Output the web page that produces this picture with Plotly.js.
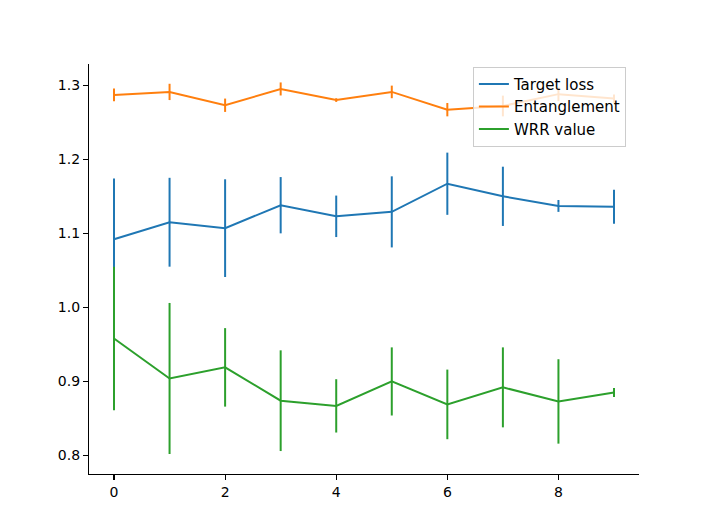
<!DOCTYPE html>
<html>
<head>
<meta charset="utf-8">
<script src="https://cdn.plot.ly/plotly-3.0.1.min.js"></script>
<style>html,body{margin:0;padding:0;background:#fff;}#chart{width:710px;height:532px;}</style>
</head>
<body>
<div id="chart"></div>
<script>
var steps = [0, 1, 2, 3, 4, 5, 6, 7, 8, 9];

var targetLoss    = [1.092, 1.115, 1.107, 1.138, 1.123, 1.129, 1.167, 1.150, 1.137, 1.136];
var targetLossErr = [0.082, 0.060, 0.066, 0.038, 0.028, 0.048, 0.042, 0.040, 0.008, 0.023];

var entanglement    = [1.287, 1.291, 1.273, 1.295, 1.280, 1.291, 1.267, 1.272, 1.288, 1.282];
var entanglementErr = [0.0085, 0.011, 0.009, 0.0088, 0.0025, 0.0085, 0.009, 0.014, 0.0095, 0.0055];

var wrrValue    = [0.958, 0.904, 0.919, 0.874, 0.867, 0.900, 0.869, 0.892, 0.873, 0.885];
var wrrValueErr = [0.097, 0.102, 0.053, 0.068, 0.036, 0.046, 0.047, 0.054, 0.057, 0.006];

var seriesNames = ['Target loss', 'Entanglement', 'WRR value'];
var seriesColors = ['#1f77b4', '#ff7f0e', '#2ca02c'];
var yTicks = [0.8, 0.9, 1.0, 1.1, 1.2, 1.3];
var xTicks = [0, 2, 4, 6, 8];

function mk(y, e, i) {
  return {
    x: steps, y: y, type: 'scatter', mode: 'lines', name: seriesNames[i],
    line: {color: seriesColors[i], width: 2},
    error_y: {type: 'data', array: e, visible: true, color: seriesColors[i], thickness: 2, width: 0}
  };
}

var data = [
  mk(targetLoss, targetLossErr, 0),
  mk(entanglement, entanglementErr, 1),
  mk(wrrValue, wrrValueErr, 2)
];

var font = {family: 'DejaVu Sans, sans-serif', size: 14, color: '#000'};

var layout = {
  width: 710, height: 532,
  margin: {l: 89, r: 71, t: 64, b: 58, pad: 0},
  paper_bgcolor: '#fff', plot_bgcolor: '#fff',
  font: font,
  showlegend: true,
  xaxis: {
    range: [-0.45, 9.45], tickvals: xTicks, showgrid: false, zeroline: false,
    showline: true, linecolor: '#000', linewidth: 1.1,
    ticks: 'outside', ticklen: 5, tickwidth: 1.1, tickcolor: '#000',
    tickfont: font
  },
  yaxis: {
    range: [0.775, 1.3287], tickvals: yTicks, tickformat: '.1f', showgrid: false, zeroline: false,
    showline: true, linecolor: '#000', linewidth: 1.1,
    ticks: 'outside', ticklen: 5, tickwidth: 1.1, tickcolor: '#000',
    tickfont: font
  },
  legend: {
    x: 0.698, xanchor: 'left', y: 0.993, yanchor: 'top',
    bgcolor: 'rgba(255,255,255,0.8)', bordercolor: '#cccccc', borderwidth: 1,
    font: {family: 'DejaVu Sans, sans-serif', size: 15, color: '#000'},
    tracegroupgap: 0
  }
};

Plotly.newPlot('chart', data, layout, {displayModeBar: false, staticPlot: true});
</script>
</body>
</html>
